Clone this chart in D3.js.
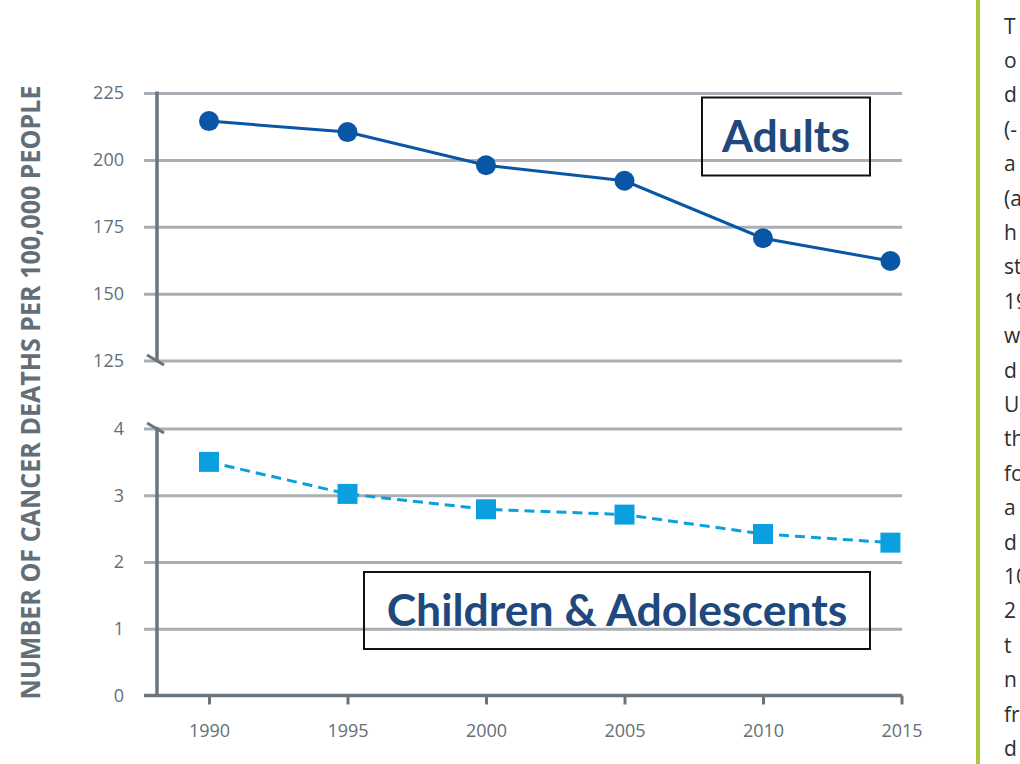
<!DOCTYPE html>
<html>
<head>
<meta charset="utf-8">
<script src="https://cdn.jsdelivr.net/npm/d3@7"></script>
<style>
  html, body { margin: 0; padding: 0; background: #fff; overflow: hidden; }
  svg { display: block; }
</style>
</head>
<body>
<svg id="chart" width="1020" height="764"></svg>
<script>
// ---- data ----
const years = [1990, 1995, 2000, 2005, 2010, 2014.6];
const xTickYears = [1990, 1995, 2000, 2005, 2010, 2015];
const adultValues = [214.5, 210.4, 198, 192.2, 170.7, 162.2];
const childValues = [3.5, 3.02, 2.79, 2.71, 2.42, 2.29];
const adultTicks = [125, 150, 175, 200, 225];
const childTicks = [0, 1, 2, 3, 4];
const yAxisTitle = "NUMBER OF CANCER DEATHS PER 100,000 PEOPLE";
const adultLabel = "Adults";
const childLabel = "Children & Adolescents";
const sideText = ["T", "o", "d", "(-", "a", "(a", "h", "st", "19", "w", "d", "U", "th", "fo", "a", "d", "10", "2", "t", "n", "fr", "d"];

// ---- layout ----
const svg = d3.select("#chart");
const gridColor = "#a9afb4";
const axisColor = "#6b747b";
const labelColor = "#646e77";
const adultColor = "#0956a6";
const childColor = "#0aa0e0";
const boxTextColor = "#1f497d";

const x = d3.scaleLinear().domain([1990, 2015]).range([209, 901.5]);
const yTop = d3.scaleLinear().domain([125, 225]).range([360.5, 93]);
const yBot = d3.scaleLinear().domain([0, 4]).range([695.5, 428.5]);

const gridLeft = 144, gridRight = 902, axisX = 157;

// gridlines + y labels
function yAxis(scale, ticks) {
  const g = svg.append("g").attr("transform", `translate(${gridRight},0)`)
    .call(d3.axisLeft(scale).tickValues(ticks).tickFormat(d3.format("d"))
      .tickSize(gridRight - gridLeft).tickPadding(20));
  g.select(".domain").remove();
  g.selectAll(".tick line").attr("stroke", gridColor).attr("stroke-width", 3);
  g.selectAll(".tick text").attr("fill", labelColor)
    .style("font-family", "'Open Sans', sans-serif").style("font-size", "18px");
  return g;
}
yAxis(yTop, adultTicks);
const gb = yAxis(yBot, childTicks);
gb.selectAll(".tick").filter(d => d === 0).select("line").attr("stroke", "none");

// vertical axis lines
svg.append("line").attr("x1", axisX).attr("x2", axisX)
  .attr("y1", yTop(225) - 1.5).attr("y2", yTop(125))
  .attr("stroke", axisColor).attr("stroke-width", 3.5);
svg.append("line").attr("x1", axisX).attr("x2", axisX)
  .attr("y1", yBot(4) - 1.5).attr("y2", yBot(0))
  .attr("stroke", axisColor).attr("stroke-width", 3.5);

// break marks
[yTop(125), yBot(4)].forEach(yy => {
  svg.append("line").attr("x1", axisX - 10).attr("y1", yy - 5.5)
    .attr("x2", axisX + 7).attr("y2", yy + 4.5)
    .attr("stroke", axisColor).attr("stroke-width", 3);
});

// x axis
const gx = svg.append("g").attr("transform", `translate(0,${yBot(0)})`)
  .call(d3.axisBottom(x).tickValues(xTickYears).tickFormat(d3.format("d")).tickSize(9).tickPadding(20));
gx.select(".domain").remove();
gx.selectAll(".tick line").attr("stroke", axisColor).attr("stroke-width", 3);
gx.selectAll(".tick text").attr("fill", labelColor)
  .style("font-family", "'Open Sans', sans-serif").style("font-size", "18px");
svg.append("line").attr("x1", gridLeft).attr("x2", gridRight)
  .attr("y1", yBot(0)).attr("y2", yBot(0))
  .attr("stroke", axisColor).attr("stroke-width", 3.5);

// y axis title
svg.append("text")
  .attr("transform", `translate(40,${392.5}) rotate(-90)`)
  .attr("text-anchor", "middle")
  .attr("textLength", 614).attr("lengthAdjust", "spacingAndGlyphs")
  .attr("fill", labelColor)
  .style("font-family", "'Open Sans', sans-serif").style("font-weight", 700).style("font-size", "26px")
  .text(yAxisTitle);

// adult series
const adultData = years.map((yr, i) => ({ yr, v: adultValues[i] }));
svg.append("path").datum(adultData)
  .attr("fill", "none").attr("stroke", adultColor).attr("stroke-width", 3)
  .attr("d", d3.line().x(d => x(d.yr)).y(d => yTop(d.v)));
svg.selectAll(".adot").data(adultData).enter().append("circle")
  .attr("cx", d => x(d.yr)).attr("cy", d => yTop(d.v)).attr("r", 10)
  .attr("fill", adultColor);

// child series
const childData = years.map((yr, i) => ({ yr, v: childValues[i] }));
svg.append("path").datum(childData)
  .attr("fill", "none").attr("stroke", childColor).attr("stroke-width", 3)
  .attr("stroke-dasharray", "10,6")
  .attr("d", d3.line().x(d => x(d.yr)).y(d => yBot(d.v)));
svg.selectAll(".csq").data(childData).enter().append("path")
  .attr("transform", d => `translate(${x(d.yr)},${yBot(d.v)})`)
  .attr("d", d3.symbol().type(d3.symbolSquare).size(400))
  .attr("fill", childColor);

// label boxes
function labelBox(x0, y0, x1, y1, txt) {
  svg.append("rect").attr("x", x0).attr("y", y0).attr("width", x1 - x0).attr("height", y1 - y0)
    .attr("fill", "none").attr("stroke", "#111").attr("stroke-width", 2);
  svg.append("text").attr("x", (x0 + x1) / 2).attr("y", (y0 + y1) / 2 + 15)
    .attr("text-anchor", "middle").attr("fill", boxTextColor)
    .style("font-family", "Lato, sans-serif").style("font-weight", 700).style("font-size", "44.5px")
    .text(txt);
}
labelBox(702, 97.5, 870, 175.5, adultLabel);
labelBox(364, 572, 870, 649, childLabel);

// right side: green rule and cropped paragraph
svg.append("rect").attr("x", 976).attr("y", 0).attr("width", 4).attr("height", 764).attr("fill", "#a8c73c");
svg.selectAll(".side").data(sideText).enter().append("text")
  .attr("x", 1004).attr("y", (d, i) => 26 + 34.4 * i + 7.5)
  .attr("fill", "#2e2e2e")
  .style("font-family", "'Open Sans', sans-serif").style("font-size", "21px")
  .text(d => d);
</script>
</body>
</html>
